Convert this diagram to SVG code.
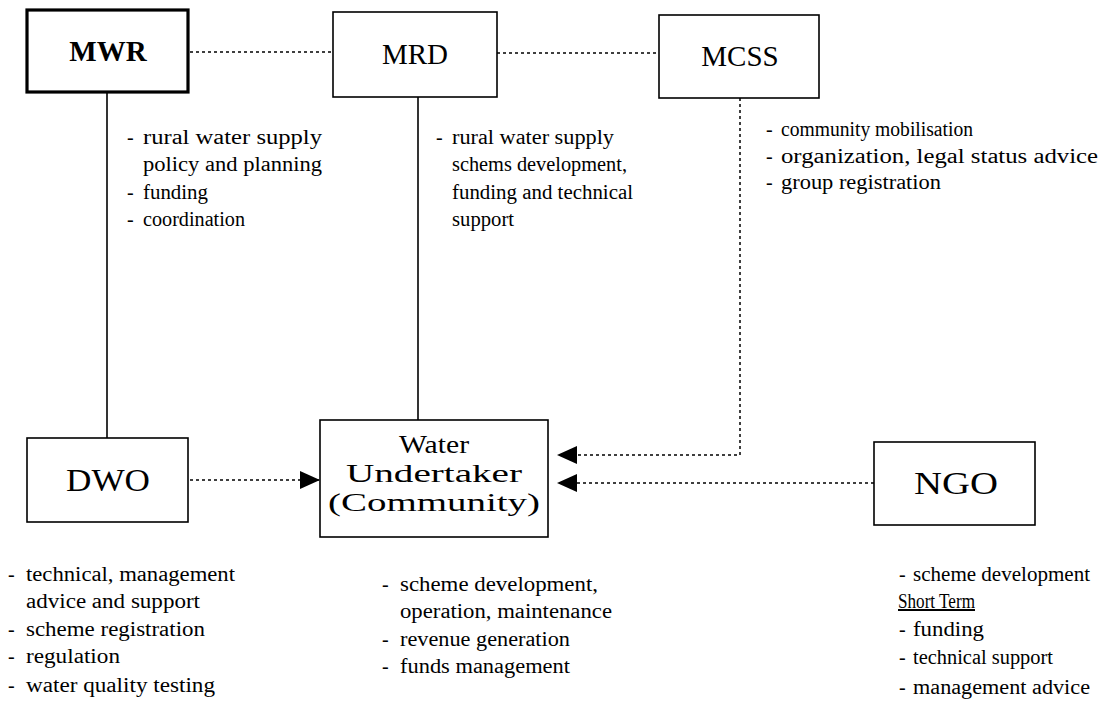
<svg xmlns="http://www.w3.org/2000/svg" width="1103" height="725" viewBox="0 0 1103 725">
<style>
.box{fill:#fff;stroke:#000;stroke-width:1.6}
.thick{stroke-width:3.2}
.title{font-family:"Liberation Serif",serif;font-size:29px;fill:#000;text-anchor:middle}
.big{font-size:31px}
.wt{font-size:25px}
.bold{font-weight:bold}
.body{font-family:"Liberation Serif",serif;font-size:20px;fill:#000}
.solid{stroke:#000;stroke-width:1.6;fill:none}
.dot{stroke:#000;stroke-width:1.5;fill:none;stroke-dasharray:3 3}
</style>
<defs>
<marker id="arr" markerUnits="userSpaceOnUse" markerWidth="22" markerHeight="18" refX="20" refY="9" orient="auto">
<path d="M0,0 L20,9 L0,18 Z" fill="#000"/>
</marker>
</defs>
<rect width="1103" height="725" fill="#fff"/>
<g id="connectors">
<line class="dot" x1="190" y1="52" x2="333" y2="52"/>
<line class="dot" x1="497" y1="53" x2="659" y2="53"/>
<line class="solid" x1="107" y1="92" x2="107" y2="438"/>
<line class="solid" x1="418" y1="97" x2="418" y2="420"/>
<path class="dot" d="M740,98 V455 H557" marker-end="url(#arr)"/>
<line class="dot" x1="874" y1="483" x2="557" y2="483" marker-end="url(#arr)"/>
<line class="dot" x1="190" y1="480" x2="320" y2="480" marker-end="url(#arr)"/>
</g>
<g id="MWR">
<rect class="box thick" x="27" y="10" width="161" height="82"/>
<text class="title bold" x="108" y="61">MWR</text>
</g>
<g id="MRD">
<rect class="box" x="333" y="12" width="164" height="85"/>
<text class="title" x="415" y="64">MRD</text>
</g>
<g id="MCSS">
<rect class="box" x="659" y="15" width="160" height="83"/>
<text class="title" x="740" y="66">MCSS</text>
</g>
<g id="DWO">
<rect class="box" x="27" y="438" width="161" height="84"/>
<text class="title big" x="108" y="491" textLength="84" lengthAdjust="spacingAndGlyphs">DWO</text>
</g>
<g id="Water">
<rect class="box" x="320" y="420" width="228" height="117"/>
<text class="title wt" x="434" y="453" textLength="70" lengthAdjust="spacingAndGlyphs">Water</text>
<text class="title wt" x="434" y="482" textLength="176" lengthAdjust="spacingAndGlyphs">Undertaker</text>
<text class="title wt" x="434" y="511" textLength="212" lengthAdjust="spacingAndGlyphs">(Community)</text>
</g>
<g id="NGO">
<rect class="box" x="874" y="442" width="161" height="83"/>
<text class="title big" x="956" y="494" textLength="84" lengthAdjust="spacingAndGlyphs">NGO</text>
</g>
<g id="labels-MWR" class="body">
<text x="127" y="144">-</text><text x="143" y="144" textLength="179" lengthAdjust="spacingAndGlyphs">rural water supply</text>
<text x="143" y="171" textLength="179" lengthAdjust="spacingAndGlyphs">policy and planning</text>
<text x="127" y="199">-</text><text x="143" y="199" textLength="65" lengthAdjust="spacingAndGlyphs">funding</text>
<text x="127" y="226">-</text><text x="143" y="226" textLength="102" lengthAdjust="spacingAndGlyphs">coordination</text>
</g>
<g id="labels-MRD" class="body">
<text x="436" y="144">-</text><text x="452" y="144" textLength="162" lengthAdjust="spacingAndGlyphs">rural water supply</text>
<text x="452" y="171" textLength="175" lengthAdjust="spacingAndGlyphs">schems development,</text>
<text x="452" y="199" textLength="181" lengthAdjust="spacingAndGlyphs">funding and technical</text>
<text x="452" y="226" textLength="62" lengthAdjust="spacingAndGlyphs">support</text>
</g>
<g id="labels-MCSS" class="body">
<text x="766" y="136">-</text><text x="781" y="136" textLength="192" lengthAdjust="spacingAndGlyphs">community mobilisation</text>
<text x="766" y="163">-</text><text x="781" y="163" textLength="317" lengthAdjust="spacingAndGlyphs">organization, legal status advice</text>
<text x="766" y="189">-</text><text x="781" y="189" textLength="160" lengthAdjust="spacingAndGlyphs">group registration</text>
</g>
<g id="labels-DWO" class="body">
<text x="8" y="581">-</text><text x="26" y="581" textLength="209" lengthAdjust="spacingAndGlyphs">technical, management</text>
<text x="26" y="608" textLength="174" lengthAdjust="spacingAndGlyphs">advice and support</text>
<text x="8" y="636">-</text><text x="26" y="636" textLength="179" lengthAdjust="spacingAndGlyphs">scheme registration</text>
<text x="8" y="663">-</text><text x="26" y="663" textLength="94" lengthAdjust="spacingAndGlyphs">regulation</text>
<text x="8" y="692">-</text><text x="26" y="692" textLength="189" lengthAdjust="spacingAndGlyphs">water quality testing</text>
</g>
<g id="labels-Water" class="body">
<text x="382" y="591">-</text><text x="400" y="591" textLength="198" lengthAdjust="spacingAndGlyphs">scheme development,</text>
<text x="400" y="618" textLength="212" lengthAdjust="spacingAndGlyphs">operation, maintenance</text>
<text x="382" y="646">-</text><text x="400" y="646" textLength="170" lengthAdjust="spacingAndGlyphs">revenue generation</text>
<text x="382" y="673">-</text><text x="400" y="673" textLength="170" lengthAdjust="spacingAndGlyphs">funds management</text>
</g>
<g id="labels-NGO" class="body">
<text x="899" y="581">-</text><text x="913" y="581" textLength="177" lengthAdjust="spacingAndGlyphs">scheme development</text>
<text x="898" y="608" textLength="77" lengthAdjust="spacingAndGlyphs" text-decoration="underline">Short Term</text>
<text x="899" y="636">-</text><text x="913" y="636" textLength="71" lengthAdjust="spacingAndGlyphs">funding</text>
<text x="899" y="664">-</text><text x="913" y="664" textLength="140" lengthAdjust="spacingAndGlyphs">technical support</text>
<text x="899" y="694">-</text><text x="913" y="694" textLength="177" lengthAdjust="spacingAndGlyphs">management advice</text>
</g>
</svg>
